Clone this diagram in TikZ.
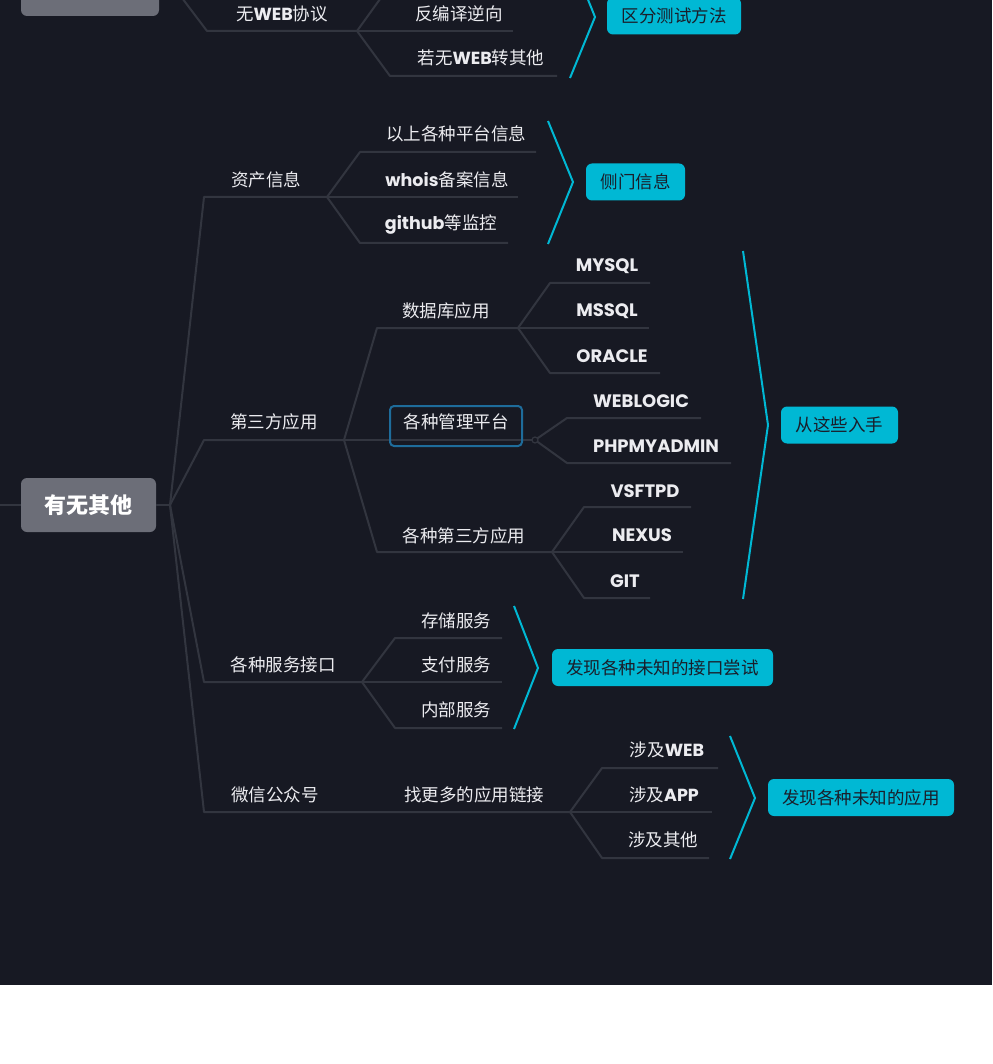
\documentclass[tikz,border=0pt]{standalone}
\usepackage{fontspec}
\setmainfont{Noto Sans CJK SC}
\newfontfamily\latf{Poppins}
\definecolor{bgc}{RGB}{23,25,35}
\definecolor{lnc}{RGB}{50,53,63}
\definecolor{cyn}{RGB}{0,184,212}
\definecolor{txt}{RGB}{236,236,240}
\definecolor{boxtxt}{RGB}{26,30,42}
\definecolor{rootc}{RGB}{108,110,120}
\definecolor{mgc}{RGB}{30,108,155}
\tikzset{
  lbl/.style={text=txt, font=\fontsize{17.5}{20}\selectfont, inner sep=0pt},
  lt/.style={lbl, font=\latf\bfseries\fontsize{18}{21}\selectfont},
  conn/.style={draw=lnc, line width=2pt, line join=round},
  brk/.style={draw=cyn, line width=2pt, line join=miter},
  tag/.style={fill=cyn, rounded corners=6pt, text=boxtxt, font=\fontsize{17.5}{20}\selectfont, minimum height=37pt, inner sep=0pt},
  rootbox/.style={fill=rootc, rounded corners=6pt, text=white, font=\bfseries\fontsize{22}{26}\selectfont, minimum width=135pt, minimum height=54pt, inner sep=0pt},
  mgbox/.style={draw=mgc, line width=2pt, rounded corners=4pt, minimum width=132pt, minimum height=40pt, inner sep=0pt, text=txt, font=\fontsize{17.5}{20}\selectfont}
}
\begin{document}
\begin{tikzpicture}[x=1pt,y=-1pt]
\useasboundingbox (0,0) rectangle (992,1064);
\clip (0,0) rectangle (992,1064);
\fill[bgc] (0,0) rectangle (992,985);
\fill[white] (0,985) rectangle (992,1064);

% junction coordinates
\coordinate (lft) at (0,505);
\coordinate (r0) at (170,505);
\coordinate (t0) at (176,-10); \coordinate (t1) at (207,31); \coordinate (t2) at (357,31);
\coordinate (tu) at (388,-12); \coordinate (tb2) at (513,31);
\coordinate (tc1) at (390,76); \coordinate (tc2) at (557,76);
\coordinate (a1) at (204,197); \coordinate (a2) at (327,197);
\coordinate (aa1) at (360,152); \coordinate (aa2) at (536,152);
\coordinate (ab2) at (518,197);
\coordinate (ac1) at (360,243); \coordinate (ac2) at (508,243);
\coordinate (b1) at (204,440); \coordinate (b2) at (344,440);
\coordinate (ba1) at (377,328); \coordinate (ba2) at (518,328);
\coordinate (baa1) at (550,283); \coordinate (baa2) at (650,283);
\coordinate (bab2) at (649,328);
\coordinate (bac1) at (550,373); \coordinate (bac2) at (660,373);
\coordinate (bb2) at (535,440);
\coordinate (bba1) at (567,418); \coordinate (bba2) at (701,418);
\coordinate (bbb1) at (567,463); \coordinate (bbb2) at (731,463);
\coordinate (bc1) at (377,552); \coordinate (bc2) at (552,552);
\coordinate (bca1) at (584,507); \coordinate (bca2) at (691,507);
\coordinate (bcb2) at (683,552);
\coordinate (bcc1) at (584,598); \coordinate (bcc2) at (650,598);
\coordinate (c1) at (204,682); \coordinate (c2) at (362,682);
\coordinate (ca1) at (395,638); \coordinate (ca2) at (502,638);
\coordinate (cb2) at (502,682);
\coordinate (cc1) at (395,728); \coordinate (cc2) at (502,728);
\coordinate (d1) at (204,812); \coordinate (d2) at (370,812); \coordinate (d3) at (570,812);
\coordinate (da1) at (602,768); \coordinate (da2) at (718,768);
\coordinate (db2) at (712,812);
\coordinate (dc1) at (602,858); \coordinate (dc2) at (709,858);

% connectors
\draw[conn] (t0) -- (t1) -- (t2);
\draw[conn] (t2) -- (tu);
\draw[conn] (t2) -- (tb2);
\draw[conn] (t2) -- (tc1) -- (tc2);
\draw[conn] (r0) -- (a1) -- (a2);
\draw[conn] (a2) -- (aa1) -- (aa2);
\draw[conn] (a2) -- (ab2);
\draw[conn] (a2) -- (ac1) -- (ac2);
\draw[conn] (r0) -- (b1) -- (b2);
\draw[conn] (b2) -- (ba1) -- (ba2);
\draw[conn] (ba2) -- (baa1) -- (baa2);
\draw[conn] (ba2) -- (bab2);
\draw[conn] (ba2) -- (bac1) -- (bac2);
\draw[conn] (b2) -- (bb2);
\draw[conn] (bb2) -- (bba1) -- (bba2);
\draw[conn] (bb2) -- (bbb1) -- (bbb2);
\draw[conn] (b2) -- (bc1) -- (bc2);
\draw[conn] (bc2) -- (bca1) -- (bca2);
\draw[conn] (bc2) -- (bcb2);
\draw[conn] (bc2) -- (bcc1) -- (bcc2);
\draw[conn] (r0) -- (c1) -- (c2);
\draw[conn] (c2) -- (ca1) -- (ca2);
\draw[conn] (c2) -- (cb2);
\draw[conn] (c2) -- (cc1) -- (cc2);
\draw[conn] (r0) -- (d1) -- (d2) -- (d3);
\draw[conn] (d3) -- (da1) -- (da2);
\draw[conn] (d3) -- (db2);
\draw[conn] (d3) -- (dc1) -- (dc2);
\draw[draw=lnc, line width=1.2pt, fill=bgc] (bb2) circle (3pt);

% root boxes
\node[rootbox, minimum width=138pt] (roottop) at (90,-11) {};
\node[rootbox] (root) at (88.5,505) {有无其他};
\draw[conn] (lft) -- (root.west);
\draw[conn] (root.east) -- (r0);

% labels
\node[lbl] (nwp) at (282,14) {无{\latf\bfseries WEB}协议};
\node[lbl] (fby) at (459,14) {反编译逆向};
\node[lbl] (rwz) at (481,58) {若无{\latf\bfseries WEB}转其他};
\node[lbl] (zcx) at (266,180) {资产信息};
\node[lbl] (yspt) at (456,134) {以上各种平台信息};
\node[lbl] (whois) at (447,180) {{\latf\bfseries whois}备案信息};
\node[lbl] (ghjk) at (441,225) {{\latf\bfseries github}等监控};
\node[lbl] (dsf) at (274,422) {第三方应用};
\node[lbl] (sjk) at (446,311) {数据库应用};
\node[lt] (mysql) at (607,266) {MYSQL};
\node[lt] (mssql) at (607,311) {MSSQL};
\node[lt] (oracle) at (612,356) {ORACLE};
\node[mgbox] (glpt) at (456,426) {};
\node[lbl] (glpttxt) at (456,422) {各种管理平台};
\node[lt] (weblogic) at (641,401) {WEBLOGIC};
\node[lt] (pma) at (656,446) {PHPMYADMIN};
\node[lbl] (gzdsf) at (464,536) {各种第三方应用};
\node[lt] (vsftpd) at (645,491) {VSFTPD};
\node[lt] (nexus) at (642,535) {NEXUS};
\node[lt] (git) at (625,581) {GIT};
\node[lbl] (fwjk) at (283,665) {各种服务接口};
\node[lbl] (ccfw) at (456,621) {存储服务};
\node[lbl] (zffw) at (456,665) {支付服务};
\node[lbl] (nbfw) at (456,710) {内部服务};
\node[lbl] (wx) at (275,795) {微信公众号};
\node[lbl] (zgd) at (474,795) {找更多的应用链接};
\node[lbl] (sjweb) at (667,750) {涉及{\latf\bfseries WEB}};
\node[lbl] (sjapp) at (664,795) {涉及{\latf\bfseries APP}};
\node[lbl] (sjqt) at (663,840) {涉及其他};

% brackets and tags
\coordinate (k1a) at (570,-45); \coordinate (k1b) at (595,17); \coordinate (k1c) at (570,78);
\coordinate (k2a) at (548,121); \coordinate (k2b) at (573,182); \coordinate (k2c) at (548,244);
\coordinate (k3a) at (743,251); \coordinate (k3b) at (768,425); \coordinate (k3c) at (743,599);
\coordinate (k4a) at (514,606); \coordinate (k4b) at (538,668); \coordinate (k4c) at (514,729);
\coordinate (k5a) at (730,736); \coordinate (k5b) at (755,798); \coordinate (k5c) at (730,859);
\draw[brk] (k1a) -- (k1b) -- (k1c);
\draw[brk] (k2a) -- (k2b) -- (k2c);
\draw[brk] (k3a) -- (k3b) -- (k3c);
\draw[brk] (k4a) -- (k4b) -- (k4c);
\draw[brk] (k5a) -- (k5b) -- (k5c);
\node[tag, minimum width=134pt] (qf) at (674,16) {区分测试方法};
\node[tag, minimum width=99pt] (cm) at (635.5,182) {侧门信息};
\node[tag, minimum width=117pt] (cz) at (839.5,425) {从这些入手};
\node[tag, minimum width=221pt] (fxjk) at (662.5,667.5) {发现各种未知的接口尝试};
\node[tag, minimum width=186pt] (fxyy) at (861,797.5) {发现各种未知的应用};
\end{tikzpicture}
\end{document}
